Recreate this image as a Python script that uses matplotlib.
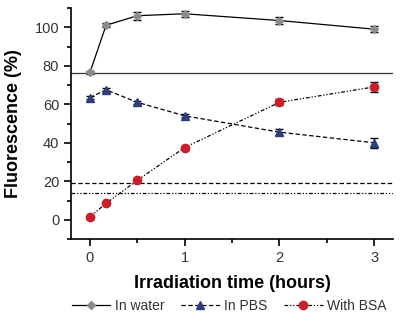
import matplotlib
matplotlib.use("Agg")
import matplotlib.pyplot as plt
from matplotlib.lines import Line2D
from matplotlib.ticker import MultipleLocator

plt.rcParams['font.family'] = ['Liberation Sans', 'DejaVu Sans']

# data
hours = [0, 0.17, 0.5, 1, 2, 3]
water = [76.5, 101, 106, 107, 103.5, 99]
water_err = [0.8, 1, 2, 1.5, 2, 1.5]
pbs = [63.5, 67.5, 61, 54, 45.5, 40]
pbs_err = [1, 1, 0.8, 0.8, 1.5, 2.5]
bsa = [1.5, 8.5, 20.5, 37.5, 61, 69]
bsa_err = [0.5, 0.5, 0.5, 1, 1.5, 2.5]
# reference levels
ref_water = 76
ref_pbs = 19.2
ref_bsa = 14

fig = plt.figure(figsize=(4.01, 3.2), dpi=100)
ax = fig.add_axes([71/401, 1-239/320, 322/401, 231/320])

dashed = (0, (3.5, 2))
dashdotdot = (0, (3, 1.5, 1, 1.5, 1, 1.5))
styles = [
    ('In water', water, water_err, '-', 'D', 4, '#8c8c8c'),
    ('In PBS', pbs, pbs_err, dashed, '^', 6, '#2c3e7c'),
    ('With BSA', bsa, bsa_err, dashdotdot, 'o', 6, '#c8202a'),
]
handles = []
for lab, vals, err, ls, mk, ms, col in styles:
    ax.errorbar(hours, vals, yerr=err, color='black', lw=0.9, ls=ls,
                marker=mk, ms=ms, mfc=col, mec=col, capsize=3,
                elinewidth=0.9, ecolor='black')
    handles.append(Line2D([], [], color='black', lw=0.9, ls=ls, marker=mk,
                          ms=ms, mfc=col, mec=col, label=lab))

ax.axhline(ref_water, color='#333333', lw=0.9, ls='-')
ax.axhline(ref_pbs, color='black', lw=0.9, ls=dashed)
ax.axhline(ref_bsa, color='black', lw=0.9, ls=dashdotdot)

ax.set_xlim(-0.2, 3.2)
ax.set_ylim(-10, 110)
ax.xaxis.set_major_locator(MultipleLocator(1))
ax.xaxis.set_minor_locator(MultipleLocator(0.5))
ax.yaxis.set_major_locator(MultipleLocator(20))
ax.yaxis.set_minor_locator(MultipleLocator(10))
ax.spines['top'].set_visible(False)
ax.spines['right'].set_visible(False)
for s in ['left', 'bottom']:
    ax.spines[s].set_linewidth(1.2)
ax.tick_params(which='major', length=5, width=1.2, labelsize=10.5, labelcolor='#333333')
ax.tick_params(which='minor', length=3, width=1.2)

ax.set_xlabel('Irradiation time (hours)', fontsize=13, fontweight='bold', labelpad=7)
ax.set_ylabel('Fluorescence (%)', fontsize=13, fontweight='bold', labelpad=9)

leg = fig.legend(handles=handles, loc='center', bbox_to_anchor=(0.571, 1-306/320),
                 ncol=3, frameon=False, fontsize=10, handlelength=2.8,
                 handletextpad=0.3, columnspacing=1.2, numpoints=1)
for t in leg.get_texts():
    t.set_color('#333333')

fig.savefig('out.png', dpi=100)
